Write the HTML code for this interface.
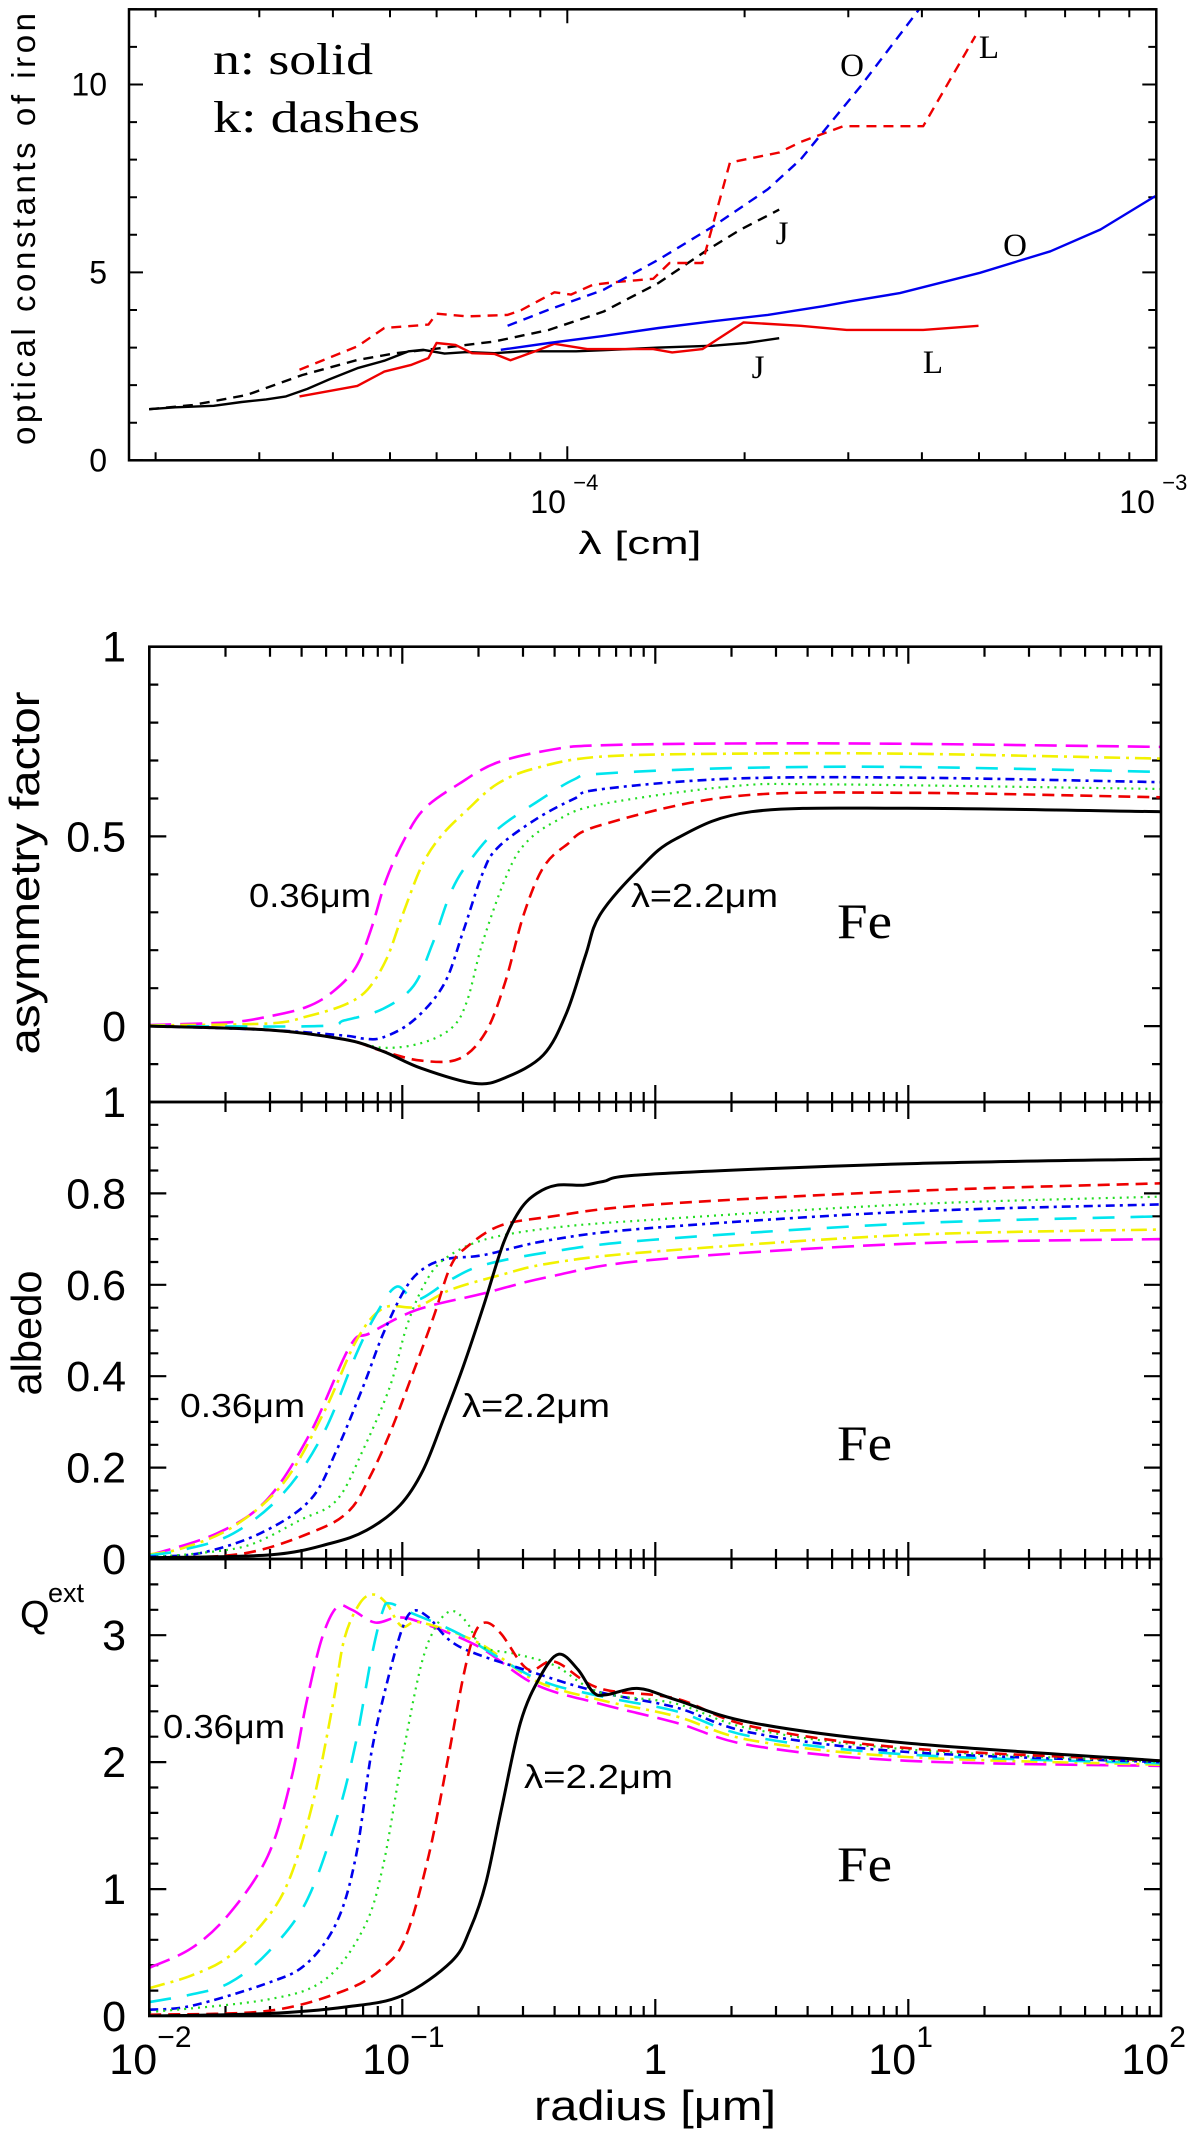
<!DOCTYPE html>
<html><head><meta charset="utf-8"><title>Optical constants and scattering of iron</title>
<style>
html,body{margin:0;padding:0;background:#fff;}
svg{display:block;}
text{font-family:"Liberation Sans",sans-serif;fill:#000;}
.serif{font-family:"Liberation Serif",serif;}
</style></head>
<body>
<svg id="chart" xmlns="http://www.w3.org/2000/svg" width="1200" height="2131" viewBox="0 0 1200 2131">
<rect x="0" y="0" width="1200" height="2131" fill="#fff"/>
</svg>
<script>
// ---------- DATA: top panel (wavelength in micron, value) ----------
const nJ = [[0.195,1.36],[0.216,1.41],[0.251,1.45],[0.280,1.55],[0.308,1.62],[0.333,1.70],[0.362,1.90],[0.394,2.15],[0.440,2.45],[0.489,2.65],[0.538,2.90],[0.569,2.94],[0.619,2.84],[0.675,2.88],[0.752,2.85],[0.836,2.90],[0.931,2.90],[1.035,2.90],[1.153,2.93],[1.429,3.0],[1.77,3.05],[2.01,3.12],[2.29,3.25]];
const kJ = [[0.195,1.36],[0.231,1.47],[0.286,1.74],[0.355,2.27],[0.440,2.67],[0.511,2.85],[0.606,2.98],[0.752,3.16],[0.931,3.47],[1.153,3.96],[1.429,4.72],[1.733,5.61],[1.97,6.14],[2.29,6.67]];
const kL = [[0.351,2.41],[0.440,3.03],[0.489,3.52],[0.581,3.61],[0.600,3.90],[0.675,3.83],[0.792,3.87],[0.836,4.0],[0.951,4.47],[1.014,4.41],[1.105,4.67],[1.203,4.74],[1.399,4.83],[1.491,5.25],[1.696,5.25],[1.888,7.92],[2.29,8.19],[2.49,8.47],[2.94,8.89],[4.02,8.89],[4.93,11.29]];
const nL = [[0.351,1.70],[0.440,1.98],[0.489,2.36],[0.544,2.54],[0.581,2.72],[0.600,3.12],[0.646,3.07],[0.689,2.85],[0.752,2.83],[0.801,2.66],[0.882,2.90],[0.951,3.10],[1.081,2.96],[1.399,2.96],[1.507,2.87],[1.696,2.96],[1.992,3.67],[2.49,3.58],[2.98,3.47],[4.02,3.47],[4.99,3.58]];
const kO = [[0.792,3.58],[0.931,4.01],[1.153,4.54],[1.429,5.34],[1.77,6.23],[2.19,7.21],[2.49,8.01],[3.15,9.96],[3.98,12.05]];
const nO = [[0.771,2.94],[0.931,3.12],[1.153,3.31],[1.429,3.52],[1.77,3.70],[2.19,3.87],[2.72,4.10],[3.02,4.23],[3.67,4.45],[5.02,4.99],[6.61,5.56],[8.04,6.14],[9.96,7.03]];
const topTicksY = [0,5,10];
const topTickLabelsX = ["-4","-3"];

// ---------- DATA: bottom panels (radius in micron, value) ----------
const asymMagenta = [[0.01,0.003],[0.0207,0.010],[0.0294,0.025],[0.0417,0.050],[0.0532,0.091],[0.0656,0.156],[0.0754,0.257],[0.0866,0.388],[0.103,0.498],[0.1227,0.574],[0.168,0.639],[0.238,0.695],[0.401,0.730],[0.604,0.740],[2.0,0.745],[9.9,0.744],[100,0.736]];
const asymYellow = [[0.01,0.002],[0.0294,0.007],[0.0417,0.025],[0.059,0.056],[0.0728,0.096],[0.0866,0.177],[0.0995,0.287],[0.1186,0.418],[0.141,0.498],[0.180,0.569],[0.238,0.639],[0.337,0.680],[0.604,0.710],[2.0,0.718],[9.9,0.718],[100,0.705]];
const asymCyan = [[0.01,0.0],[0.0462,0.0],[0.059,0.015],[0.0837,0.045],[0.1107,0.106],[0.1316,0.217],[0.1566,0.357],[0.186,0.438],[0.238,0.519],[0.337,0.589],[0.477,0.650],[0.604,0.665],[2.0,0.680],[9.9,0.683],[100,0.670]];
const asymBlue = [[0.01,0.0],[0.0294,-0.010],[0.059,-0.025],[0.0703,-0.033],[0.0837,-0.030],[0.1107,0.015],[0.146,0.110],[0.174,0.250],[0.207,0.400],[0.238,0.470],[0.337,0.545],[0.477,0.599],[0.604,0.624],[2.0,0.652],[9.9,0.655],[100,0.643]];
const asymGreen = [[0.01,0.0],[0.0294,-0.010],[0.059,-0.035],[0.0837,-0.057],[0.1186,-0.045],[0.1566,-0.005],[0.180,0.065],[0.207,0.217],[0.255,0.388],[0.303,0.478],[0.401,0.539],[0.604,0.584],[2.0,0.632],[5.0,0.637],[100,0.625]];
const asymRed = [[0.01,0.0],[0.0294,-0.010],[0.059,-0.035],[0.0837,-0.066],[0.1186,-0.091],[0.168,-0.086],[0.214,-0.015],[0.255,0.116],[0.303,0.297],[0.361,0.418],[0.446,0.478],[0.604,0.529],[2.0,0.605],[9.9,0.615],[100,0.603]];
const asymBlack = [[0.01,0.0],[0.0294,-0.010],[0.059,-0.035],[0.0837,-0.066],[0.1186,-0.111],[0.193,-0.151],[0.255,-0.136],[0.361,-0.076],[0.446,0.035],[0.53,0.186],[0.604,0.293],[0.86,0.413],[1.21,0.494],[2.4,0.565],[9.9,0.574],[100,0.565]];

const albMagenta = [[0.01,0.008],[0.0185,0.056],[0.0291,0.129],[0.0432,0.275],[0.062,0.465],[0.0745,0.494],[0.114,0.545],[0.209,0.581],[0.384,0.618],[0.953,0.654],[9.9,0.69],[100,0.700]];
const albYellow = [[0.01,0.01],[0.0136,0.024],[0.0215,0.071],[0.0339,0.166],[0.0488,0.319],[0.066,0.479],[0.0842,0.549],[0.114,0.552],[0.155,0.589],[0.243,0.621],[0.384,0.647],[0.953,0.672],[9.9,0.709],[100,0.721]];
const albCyan = [[0.01,0.008],[0.0136,0.020],[0.0215,0.056],[0.0339,0.144],[0.0488,0.275],[0.066,0.450],[0.0793,0.538],[0.095,0.596],[0.114,0.567],[0.155,0.611],[0.209,0.643],[0.384,0.672],[0.953,0.698],[9.9,0.734],[100,0.750]];
const albBlue = [[0.01,0.005],[0.0159,0.013],[0.0274,0.056],[0.0432,0.129],[0.0551,0.239],[0.070,0.377],[0.0842,0.494],[0.104,0.596],[0.125,0.640],[0.155,0.658],[0.209,0.665],[0.384,0.698],[0.953,0.724],[9.9,0.76],[100,0.776]];
const albGreen = [[0.01,0.004],[0.0159,0.013],[0.025,0.031],[0.0394,0.085],[0.0551,0.129],[0.070,0.239],[0.0893,0.377],[0.104,0.508],[0.121,0.596],[0.145,0.654],[0.209,0.698],[0.384,0.724],[0.953,0.742],[9.9,0.776],[100,0.793]];
const albRed = [[0.01,0.002],[0.0236,0.012],[0.0459,0.063],[0.062,0.107],[0.0745,0.180],[0.0893,0.275],[0.110,0.406],[0.133,0.530],[0.155,0.640],[0.180,0.683],[0.243,0.729],[0.384,0.749],[0.953,0.775],[9.9,0.805],[100,0.822]];
const albBlack = [[0.01,0.003],[0.030,0.009],[0.0518,0.034],[0.0723,0.063],[0.098,0.118],[0.121,0.195],[0.145,0.304],[0.174,0.421],[0.209,0.552],[0.251,0.691],[0.292,0.764],[0.340,0.800],[0.408,0.818],[0.519,0.818],[0.622,0.826],[0.953,0.842],[9.9,0.865],[100,0.875]];

const qMagenta = [[0.01,0.38],[0.0147,0.535],[0.0207,0.805],[0.0294,1.26],[0.0363,1.86],[0.0417,2.46],[0.048,2.97],[0.0551,3.22],[0.0632,3.20],[0.078,3.10],[0.0962,3.14],[0.1186,3.10],[0.200,2.91],[0.337,2.61],[0.604,2.46],[1.21,2.31],[2.42,2.13],[9.9,2.01],[100,1.97]];
const qYellow = [[0.01,0.22],[0.0147,0.32],[0.0207,0.47],[0.0294,0.78],[0.0363,1.11],[0.0447,1.71],[0.0532,2.46],[0.059,2.97],[0.0679,3.25],[0.0768,3.32],[0.0866,3.25],[0.0995,3.07],[0.1186,3.10],[0.2,2.94],[0.337,2.64],[0.604,2.49],[1.21,2.36],[2.42,2.17],[9.9,2.04],[100,1.98]];
const qCyan = [[0.01,0.11],[0.0147,0.17],[0.0207,0.26],[0.0294,0.50],[0.0417,0.90],[0.0551,1.56],[0.0656,2.16],[0.0754,2.82],[0.0837,3.19],[0.0896,3.25],[0.110,3.17],[0.168,3.01],[0.337,2.66],[0.604,2.52],[1.21,2.40],[2.42,2.20],[9.9,2.06],[100,1.99]];
const qBlue = [[0.01,0.05],[0.0147,0.08],[0.0294,0.26],[0.0417,0.41],[0.0551,0.74],[0.0656,1.26],[0.0754,2.07],[0.0866,2.61],[0.0995,3.04],[0.110,3.19],[0.127,3.14],[0.168,2.91],[0.337,2.70],[0.604,2.55],[1.21,2.43],[2.42,2.23],[9.9,2.08],[100,2.00]];
const qGreen = [[0.01,0.03],[0.0294,0.13],[0.0497,0.29],[0.0703,0.69],[0.0837,1.17],[0.0995,2.01],[0.1186,2.76],[0.136,3.07],[0.1566,3.19],[0.180,3.10],[0.207,2.91],[0.283,2.85],[0.401,2.76],[0.604,2.55],[1.21,2.46],[2.42,2.26],[9.9,2.10],[100,2.00]];
const qRed = [[0.01,0.01],[0.0294,0.04],[0.059,0.20],[0.0837,0.38],[0.103,0.62],[0.127,1.26],[0.151,2.01],[0.174,2.67],[0.193,3.01],[0.214,3.10],[0.246,3.01],[0.314,2.73],[0.401,2.79],[0.604,2.58],[1.21,2.50],[2.42,2.28],[9.9,2.11],[100,2.01]];
const qBlack = [[0.01,0.0],[0.0294,0.02],[0.059,0.07],[0.0995,0.16],[0.1566,0.43],[0.185,0.68],[0.214,1.05],[0.246,1.62],[0.293,2.31],[0.350,2.67],[0.415,2.85],[0.494,2.73],[0.568,2.55],[0.64,2.53],[0.86,2.58],[1.21,2.49],[2.42,2.31],[9.9,2.15],[100,2.01]];

const asymTickLabels = ["1","0.5","0"];
const albTickLabels = ["1","0.8","0.6","0.4","0.2","0"];
const qTickLabels = ["3","2","1","0"];
const radiusTickExp = ["-2","-1","","1","2"];

// ---------- helpers ----------
const NS = "http://www.w3.org/2000/svg";
const svg = document.getElementById('chart');
function mk(tag, attrs, parent){
  const e = document.createElementNS(NS, tag);
  for (const k in attrs) e.setAttribute(k, attrs[k]);
  (parent || svg).appendChild(e);
  return e;
}
function mkText(str, attrs, parent){
  const e = mk('text', attrs, parent);
  e.textContent = str;
  return e;
}
function smoothPath(pts){
  if (pts.length < 2) return '';
  let d = 'M' + pts[0][0].toFixed(1) + ',' + pts[0][1].toFixed(1);
  for (let i = 0; i < pts.length - 1; i++){
    const p0 = pts[Math.max(0,i-1)], p1 = pts[i], p2 = pts[i+1], p3 = pts[Math.min(pts.length-1,i+2)];
    const c1x = p1[0] + (p2[0]-p0[0])/6, c1y = p1[1] + (p2[1]-p0[1])/6;
    const c2x = p2[0] - (p3[0]-p1[0])/6, c2y = p2[1] - (p3[1]-p1[1])/6;
    d += ' C' + c1x.toFixed(1)+','+c1y.toFixed(1)+' '+c2x.toFixed(1)+','+c2y.toFixed(1)+' '+p2[0].toFixed(1)+','+p2[1].toFixed(1);
  }
  return d;
}
function polyPath(pts){
  return pts.map((p,i)=>(i?'L':'M')+p[0].toFixed(1)+','+p[1].toFixed(1)).join(' ');
}

// ---------- TOP PANEL ----------
const T = {left:129, right:1156.3, top:9.3, bottom:460.3, ymax:12};
function xTop(lamCm){ return 567.3 + (Math.log10(lamCm) + 4) * 589; }
function yTop(v){ return T.bottom - (T.bottom - T.top) * v / T.ymax; }

const topG = mk('g', {});



const topClip = mk('clipPath', {id:'clipTop'});
mk('rect', {x:T.left, y:T.top, width:T.right-T.left, height:T.bottom-T.top}, topClip);

let td = '';
const lamMin = Math.pow(10, -4 + (T.left - 567.3)/589);
for (let e = -5; e <= -3; e++){
  for (let m = 1; m <= 9; m++){
    const lam = m * Math.pow(10, e);
    if (lam < lamMin*1.001 || lam > 1.0001e-3) continue;
    const x = xTop(lam);
    const L = (m === 1) ? 14 : 8;
    td += 'M'+x.toFixed(1)+','+T.bottom+' v'+(-L)+' M'+x.toFixed(1)+','+T.top+' v'+L+' ';
  }
}
for (let v = 0; v <= T.ymax; v++){
  const y = yTop(v);
  const L = (v % 5 === 0) ? 14 : 8;
  td += 'M'+T.left+','+y.toFixed(1)+' h'+L+' M'+T.right+','+y.toFixed(1)+' h'+(-L)+' ';
}
const topTicks = mk('path', {d:td, stroke:'#000', 'stroke-width':2, fill:'none'}, topG);



const topSeries = [
  {data:nJ, color:'#000', dash:null, name:'n-series-J'},
  {data:kJ, color:'#000', dash:'10,7', name:'k-series-J'},
  {data:nL, color:'#ee0000', dash:null, name:'n-series-L'},
  {data:kL, color:'#ee0000', dash:'10,7', name:'k-series-L'},
  {data:nO, color:'#0000ee', dash:null, name:'n-series-O'},
  {data:kO, color:'#0000ee', dash:'10,7', name:'k-series-O'}
];
topSeries.forEach(s => {
  const pts = s.data.map(p => [xTop(p[0]*1e-4), yTop(p[1])]);
  const a = {d:polyPath(pts), stroke:s.color, 'stroke-width':2.4, fill:'none', 'clip-path':'url(#clipTop)', 'stroke-linejoin':'round'};
  if (s.dash) a['stroke-dasharray'] = s.dash;
  const p = mk('path', a, topG);
  
  
});

const topFrame = mk('rect', {x:T.left, y:T.top, width:T.right-T.left, height:T.bottom-T.top, fill:'none', stroke:'#000', 'stroke-width':2.5}, topG);



topTicksY.forEach(v => {
  const t = mkText(String(v), {x:107, y:(yTop(v)+11).toFixed(1), 'font-size':32, 'text-anchor':'end'}, topG);
  
  
});
topTickLabelsX.forEach((ex, i) => {
  const x = xTop(Math.pow(10, -4 + i));
  const t = mkText('10', {x:(x-37).toFixed(1), y:513, 'font-size':32}, topG);
  
  
  const s = mkText(ex.replace('-', '\u2212'), {x:(x+6).toFixed(1), y:490, 'font-size':22}, topG);
  
  
});
const topXTitle = mkText('\u03bb [cm]', {x:640, y:554, 'font-size':32, 'text-anchor':'middle', textLength:123, lengthAdjust:'spacingAndGlyphs'}, topG);


const topYTitle = mkText('optical constants of iron', {x:0, y:0, 'font-size':33, 'text-anchor':'middle', textLength:432, lengthAdjust:'spacing', transform:'translate(35,229) rotate(-90)'}, topG);



const lg1 = mkText('n: solid', {x:213, y:74, 'font-size':44, class:'serif', textLength:160, lengthAdjust:'spacingAndGlyphs'}, topG);


const lg2 = mkText('k: dashes', {x:213, y:132, 'font-size':44, class:'serif', textLength:207, lengthAdjust:'spacingAndGlyphs'}, topG);



const seriesLabels = [
  ['O', 852, 76, 'label-O-k'], ['L', 989, 58, 'label-L-k'], ['O', 1015, 256, 'label-O-n'],
  ['L', 933, 373, 'label-L-n'], ['J', 782, 244, 'label-J-k'], ['J', 758, 378, 'label-J-n']
];
seriesLabels.forEach(l => {
  const t = mkText(l[0], {x:l[1], y:l[2], 'font-size':33, class:'serif', 'text-anchor':'middle'}, topG);
  
  
});

// ---------- BOTTOM PANELS ----------
const B = {left:149.3, right:1161, decade:253};
function xR(r){ return B.left + (Math.log10(r) + 2) * B.decade; }
const styles = {
  magenta:{color:'#ff00ff', dash:'22,9', w:2.6},
  yellow:{color:'#f2f200', dash:'16,6,3,6', w:2.6},
  cyan:{color:'#00e5ee', dash:'22,16', w:2.6},
  blue:{color:'#0000ee', dash:'9,5,3,5', w:2.6},
  green:{color:'#22dd22', dash:'2,5', w:2.2},
  red:{color:'#ee0000', dash:'12,7', w:2.6},
  black:{color:'#000', dash:null, w:3}
};
const panels = [
  {key:'asym', top:646.7, bottom:1102, min:-0.2, max:1, minor:0.1, majorEvery:5,
   series:{magenta:asymMagenta, yellow:asymYellow, cyan:asymCyan, blue:asymBlue, green:asymGreen, red:asymRed, black:asymBlack},
   labels:asymTickLabels, labelVals:[1,0.5,0]},
  {key:'albedo', top:1102, bottom:1559, min:0, max:1, minor:0.05, majorEvery:4,
   series:{magenta:albMagenta, yellow:albYellow, cyan:albCyan, blue:albBlue, green:albGreen, red:albRed, black:albBlack},
   labels:albTickLabels, labelVals:[1,0.8,0.6,0.4,0.2,0]},
  {key:'qext', top:1559, bottom:2016, min:0, max:3.6, minor:0.2, majorEvery:5,
   series:{magenta:qMagenta, yellow:qYellow, cyan:qCyan, blue:qBlue, green:qGreen, red:qRed, black:qBlack},
   labels:qTickLabels, labelVals:[3,2,1,0]}
];

panels.forEach(P => {
  const yv = v => P.bottom - (P.bottom - P.top) * (v - P.min) / (P.max - P.min);
  const g = mk('g', {});
  
  
  const cp = mk('clipPath', {id:'clip-'+P.key});
  mk('rect', {x:B.left, y:P.top, width:B.right-B.left, height:P.bottom-P.top}, cp);

  let d = '';
  for (let e = -2; e <= 1; e++){
    for (let m = 1; m <= 9; m++){
      const r = m * Math.pow(10, e);
      const x = xR(r);
      if (m === 1 && e === -2) continue;
      const L = (m === 1) ? 17 : 10;
      d += 'M'+x.toFixed(1)+','+P.bottom+' v'+(-L)+' M'+x.toFixed(1)+','+P.top+' v'+L+' ';
    }
  }
  const nT = Math.round((P.max - P.min) / P.minor);
  for (let i = 1; i < nT; i++){
    const v = P.min + i * P.minor;
    const y = yv(v);
    const isMajor = Math.abs(Math.round(v / (P.minor*P.majorEvery)) * P.minor*P.majorEvery - v) < 1e-6;
    const L = isMajor ? 17 : 9;
    d += 'M'+B.left+','+y.toFixed(1)+' h'+L+' M'+B.right+','+y.toFixed(1)+' h'+(-L)+' ';
  }
  const tk = mk('path', {d:d, stroke:'#000', 'stroke-width':2.2, fill:'none'}, g);
  
  

  ['magenta','yellow','cyan','blue','green','red','black'].forEach(c => {
    const st = styles[c];
    const pts = P.series[c].map(p => [xR(p[0]), yv(p[1])]);
    const a = {d:smoothPath(pts), stroke:st.color, 'stroke-width':st.w, fill:'none', 'clip-path':'url(#clip-'+P.key+')'};
    if (st.dash) a['stroke-dasharray'] = st.dash;
    const p = mk('path', a, g);
    
    
  });

  const fr = mk('rect', {x:B.left, y:P.top, width:B.right-B.left, height:P.bottom-P.top, fill:'none', stroke:'#000', 'stroke-width':2.6}, g);
  
  

  P.labels.forEach((lab, i) => {
    const t = mkText(lab, {x:126, y:(yv(P.labelVals[i])+15).toFixed(1), 'font-size':43, 'text-anchor':'end'}, g);
    
    
  });
});

const ann = [
  ['0.36\u03bcm', 249, 907, 122, 'asym-label-036'],
  ['\u03bb=2.2\u03bcm', 631, 907, 147, 'asym-label-22'],
  ['0.36\u03bcm', 180, 1417, 125, 'albedo-label-036'],
  ['\u03bb=2.2\u03bcm', 462, 1417, 148, 'albedo-label-22'],
  ['0.36\u03bcm', 163, 1738, 122, 'qext-label-036'],
  ['\u03bb=2.2\u03bcm', 524, 1788, 149, 'qext-label-22']
];
ann.forEach(a => {
  const t = mkText(a[0], {x:a[1], y:a[2], 'font-size':33, textLength:a[3], lengthAdjust:'spacingAndGlyphs'});
  
  
});
[[938,'asym-fe-label'],[1460,'albedo-fe-label'],[1881,'qext-fe-label']].forEach(f => {
  const t = mkText('Fe', {x:837, y:f[0], 'font-size':50, class:'serif', textLength:55, lengthAdjust:'spacingAndGlyphs'});
  
  
});

const asymTitle = mkText('asymmetry factor', {x:0, y:0, 'font-size':42, 'text-anchor':'middle', textLength:363, lengthAdjust:'spacingAndGlyphs', transform:'translate(39,873) rotate(-90)'});


const albTitle = mkText('albedo', {x:0, y:0, 'font-size':42, 'text-anchor':'middle', textLength:125, lengthAdjust:'spacingAndGlyphs', transform:'translate(41,1333) rotate(-90)'});


const qT = mkText('Q', {x:20, y:1627, 'font-size':38});


const qS = mkText('ext', {x:48, y:1602, 'font-size':27});



radiusTickExp.forEach((ex, i) => {
  const x = xR(Math.pow(10, i - 2));
  if (ex === '') {
    const t = mkText('1', {x:x.toFixed(1), y:2074, 'font-size':43, 'text-anchor':'middle'});
    
    
    return;
  }
  const t = mkText('10', {x:(x-40).toFixed(1), y:2074, 'font-size':43});
  
  
  const s = mkText(ex.replace('-', '\u2212'), {x:(x+8).toFixed(1), y:2047, 'font-size':30});
  
  
});
const xTitle = mkText('radius [\u03bcm]', {x:655, y:2120, 'font-size':42, 'text-anchor':'middle', textLength:242, lengthAdjust:'spacingAndGlyphs'});


</script>
</body></html>
